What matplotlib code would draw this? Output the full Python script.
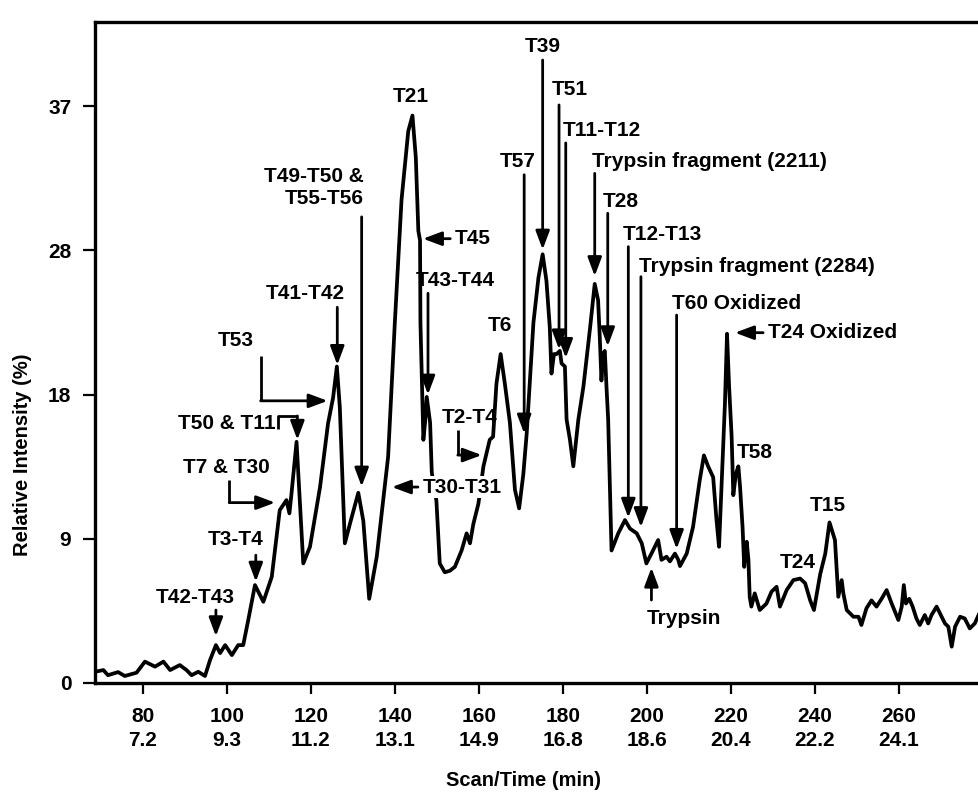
import matplotlib.pyplot as plt

plt.rcParams['font.family'] = ['Liberation Sans', 'DejaVu Sans']
plt.rcParams['font.weight'] = 'bold'
plt.rcParams['font.size'] = 15

# chromatogram trace (scan number, relative intensity %)
scan = [68.6, 70.6, 71.7, 74.1, 75.7, 78.5, 80.5, 82.9, 84.9, 86.5,
        88.8, 90.4, 91.6, 93.2, 94.8, 96.0, 97.4, 98.4, 99.6, 101.2,
        102.7, 103.9, 105.1, 106.7, 108.7, 110.7, 112.6, 114.2, 114.9, 115.4,
        116.6, 118.2, 119.8, 122.2, 124.1, 125.3, 126.2, 126.9, 128.1, 129.3,
        131.3, 132.5, 133.9, 135.7, 138.4, 140.0, 141.6, 143.2, 144.2, 145.0,
        145.6, 146.0, 146.1, 146.8, 147.2, 147.6, 148.4, 148.8, 149.9, 150.7,
        151.9, 153.1, 154.3, 155.9, 157.1, 157.9, 158.7, 159.9, 161.1, 162.6,
        163.4, 164.2, 165.2, 166.2, 167.4, 168.6, 169.6, 170.6, 171.4, 173.0,
        174.2, 175.2, 176.1, 176.9, 177.3, 177.9, 178.5, 179.3, 179.7, 180.5,
        180.9, 181.7, 182.5, 183.7, 184.9, 186.5, 187.6, 188.4, 188.8, 189.2,
        189.6, 190.0, 190.4, 190.8, 191.2, 191.6, 193.2, 194.8, 196.0, 197.6,
        198.8, 199.9, 201.1, 202.7, 203.5, 204.7, 205.5, 206.7, 207.5, 207.9,
        209.5, 211.0, 212.6, 213.6, 214.6, 215.8, 216.6, 217.2, 217.8, 218.6,
        219.1, 219.6, 220.2, 220.6, 221.2, 221.8, 222.2, 222.8, 223.2, 223.8,
        224.2, 224.5, 224.9, 225.7, 226.9, 228.5, 229.7, 230.9, 231.7, 233.3,
        234.9, 236.5, 237.7, 238.9, 239.8, 241.3, 242.5, 243.5, 244.8, 245.6,
        246.4, 246.8, 247.6, 249.2, 250.4, 251.1, 252.3, 253.5, 254.7, 255.9,
        257.1, 258.3, 259.9, 260.7, 261.2, 261.7, 262.5, 263.3, 264.2, 265.0,
        266.2, 267.0, 267.8, 269.0, 270.2, 271.0, 271.8, 272.6, 273.4, 274.6,
        275.7, 276.9, 278.1, 279.0]
intensity = [0.72, 0.83, 0.5, 0.7, 0.45, 0.66, 1.37, 1.05, 1.37, 0.83,
             1.15, 0.83, 0.5, 0.72, 0.45, 1.47, 2.43, 1.92, 2.43, 1.79,
             2.43, 2.43, 4.04, 6.28, 5.21, 6.81, 11.09, 11.73, 10.88, 12.16,
             15.47, 7.67, 8.74, 12.58, 16.65, 18.3, 20.3, 17.7, 8.96, 10.2,
             12.2, 10.4, 5.4, 8.1, 14.5, 23.1, 31.0, 35.4, 36.4, 33.7,
             29.0, 28.4, 23.1, 15.6, 16.7, 18.35, 16.7, 13.5, 11.7, 7.67,
             7.1, 7.2, 7.45, 8.5, 9.6, 8.96, 10.2, 11.5, 13.9, 15.6,
             15.8, 19.2, 21.1, 19.2, 16.7, 12.4, 11.2, 13.4, 16.0, 23.1,
             26.0, 27.5, 25.8, 22.8, 19.85, 21.1, 21.1, 21.3, 20.5, 20.3,
             16.9, 15.6, 13.9, 16.9, 19.0, 22.8, 25.6, 24.55, 22.2, 19.4,
             21.1, 21.3, 19.0, 16.9, 12.6, 8.5, 9.6, 10.45, 9.9, 9.6,
             8.96, 7.67, 8.3, 9.17, 7.9, 8.1, 7.8, 8.3, 7.9, 7.5,
             8.3, 10.0, 13.0, 14.6, 13.9, 13.2, 10.45, 8.74, 12.6, 17.9,
             22.4, 19.0, 15.8, 12.05, 13.4, 13.9, 12.6, 10.0, 7.45, 9.06,
             7.9, 5.53, 4.9, 5.75, 4.68, 5.1, 5.86, 6.17, 4.9, 5.96,
             6.6, 6.7, 6.4, 5.3, 4.68, 7.0, 8.3, 10.3, 9.17, 5.53,
             6.6, 5.75, 4.68, 4.25, 4.25, 3.72, 4.79, 5.3, 4.9, 5.4,
             5.96, 5.1, 4.04, 4.9, 6.28, 5.1, 5.4, 4.9, 4.14, 3.72,
             4.36, 3.82, 4.36, 4.9, 4.25, 3.82, 3.61, 2.33, 3.61, 4.25,
             4.14, 3.5, 3.82, 4.36]

scan_ticks = [80, 100, 120, 140, 160, 180, 200, 220, 240, 260]
time_ticks = ['7.2', '9.3', '11.2', '13.1', '14.9', '16.8', '18.6', '20.4', '22.2', '24.1']
y_ticks = [0, 9.25, 18.5, 27.75, 37]
y_tick_labels = ['0', '9', '18', '28', '37']

# plain labels sitting over peaks
peak_labels = [("T21", 143.8, 37.6), ("T6", 165.0, 22.9), ("T58", 225.7, 14.8),
               ("T15", 243.2, 11.4), ("T24", 235.9, 7.7)]

# label, text x, text y, arrow path (last point = arrow tip)
arrow_labels = [
    ("T42-T43", 92.4, 5.5, [(97.4, 4.68), (97.4, 3.0)]),
    ("T3-T4", 102.1, 9.2, [(106.9, 8.2), (106.9, 6.5)]),
    ("T7 & T30", 100.0, 13.84, [(100.6, 13.0), (100.6, 11.57), (111.5, 11.57)]),
    ("T50 & T11", 100.1, 16.66, [(112.2, 16.3), (112.2, 17.13), (116.8, 17.13), (116.8, 15.6)]),
    ("T53", 102.2, 22.0, [(108.05, 21.0), (108.05, 18.1), (124.0, 18.1)]),
    ("T41-T42", 118.8, 25.0, [(126.3, 24.1), (126.3, 20.4)]),
    ("T43-T44", 154.3, 25.85, [(147.9, 25.0), (147.9, 18.5)]),
    ("T2-T4", 157.9, 17.06, [(155.0, 16.23), (155.0, 14.62), (160.7, 14.62)]),
    ("T57", 169.2, 33.44, [(170.8, 32.6), (170.8, 16.0)]),
    ("T39", 175.3, 40.86, [(175.2, 39.96), (175.2, 27.8)]),
    ("T51", 181.7, 38.08, [(179.1, 37.08), (179.1, 21.4)]),
    ("T11-T12", 189.2, 35.43, [(180.7, 34.64), (180.7, 20.85)]),
    ("Trypsin fragment (2211)", 214.8, 33.44, [(187.6, 32.69), (187.6, 26.1)]),
    ("T28", 193.7, 30.87, [(190.7, 30.13), (190.7, 21.6)]),
    ("T12-T13", 203.8, 28.74, [(195.6, 27.99), (195.6, 10.6)]),
    ("Trypsin fragment (2284)", 226.1, 26.7, [(198.6, 26.06), (198.6, 10.0)]),
    ("T60 Oxidized", 221.4, 24.36, [(207.1, 23.6), (207.1, 8.6)]),
    ("Trypsin", 208.8, 4.15, [(201.1, 5.32), (201.1, 7.4)]),
]

# label starting right of a leftward arrow: label, text x, y, arrow tail x, arrow tip x
left_arrows = [("T45", 154.3, 28.5, 153.2, 146.7),
               ("T30-T31", 146.7, 12.57, 145.5, 139.3),
               ("T24 Oxidized", 228.9, 22.47, 227.7, 221.0)]

fig = plt.figure(figsize=(9.79, 7.94), dpi=100)
ax = fig.add_axes([0.097, 0.1398, 0.903, 0.8325])

ax.plot(scan, intensity, color='black', lw=2.7, zorder=2)

ax.set_xlim(68.6, 279.1)
ax.set_ylim(0, 42.4)
ax.set_xticks(scan_ticks)
ax.set_xticklabels([f"{s}\n{t}" for s, t in zip(scan_ticks, time_ticks)], linespacing=1.35)
ax.set_yticks(y_ticks)
ax.set_yticklabels(y_tick_labels)
ax.tick_params(axis='x', length=8, width=1.6, pad=9, labelsize=15)
ax.tick_params(axis='y', length=9, width=1.6, pad=8, labelsize=15)
for side in ['left', 'bottom', 'top']:
    ax.spines[side].set_linewidth(2.4)
ax.spines['right'].set_visible(False)

ax.set_xlabel("Scan/Time (min)", fontsize=14.5, fontweight='bold')
ax.xaxis.set_label_coords(0.485, -0.133)
ax.set_ylabel("Relative Intensity (%)", fontsize=14.5, fontweight='bold')
ax.yaxis.set_label_coords(-0.071, 0.345)

arrow_style = dict(arrowstyle='-|>,head_length=0.75,head_width=0.28', color='black',
                   lw=2, shrinkA=0, shrinkB=0)


def draw_arrow(pts):
    xs = [p[0] for p in pts]
    ys = [p[1] for p in pts]
    if len(pts) > 2:
        ax.plot(xs[:-1], ys[:-1], color='black', lw=2, solid_capstyle='butt', zorder=3)
    ax.annotate('', xy=pts[-1], xytext=pts[-2], arrowprops=arrow_style, zorder=3)


for label, tx, ty in peak_labels:
    ax.text(tx, ty, label, ha='center', va='center', zorder=4)

for label, tx, ty, pts in arrow_labels:
    ax.text(tx, ty, label, ha='center', va='center', zorder=4)
    draw_arrow(pts)

# two line label with its own arrow
ax.text(132.5, 31.8, "T49-T50 &\nT55-T56", ha='right', va='center',
        multialignment='right', linespacing=1.2, zorder=4)
draw_arrow([(132.1, 29.9), (132.1, 12.6)])

for label, tx, ty, x0, x1 in left_arrows:
    ax.text(tx, ty, label, ha='left', va='center', zorder=4,
            bbox=dict(facecolor='white', edgecolor='none', pad=1))
    draw_arrow([(x0, ty), (x1, ty)])

fig.savefig("out.png", dpi=100)
